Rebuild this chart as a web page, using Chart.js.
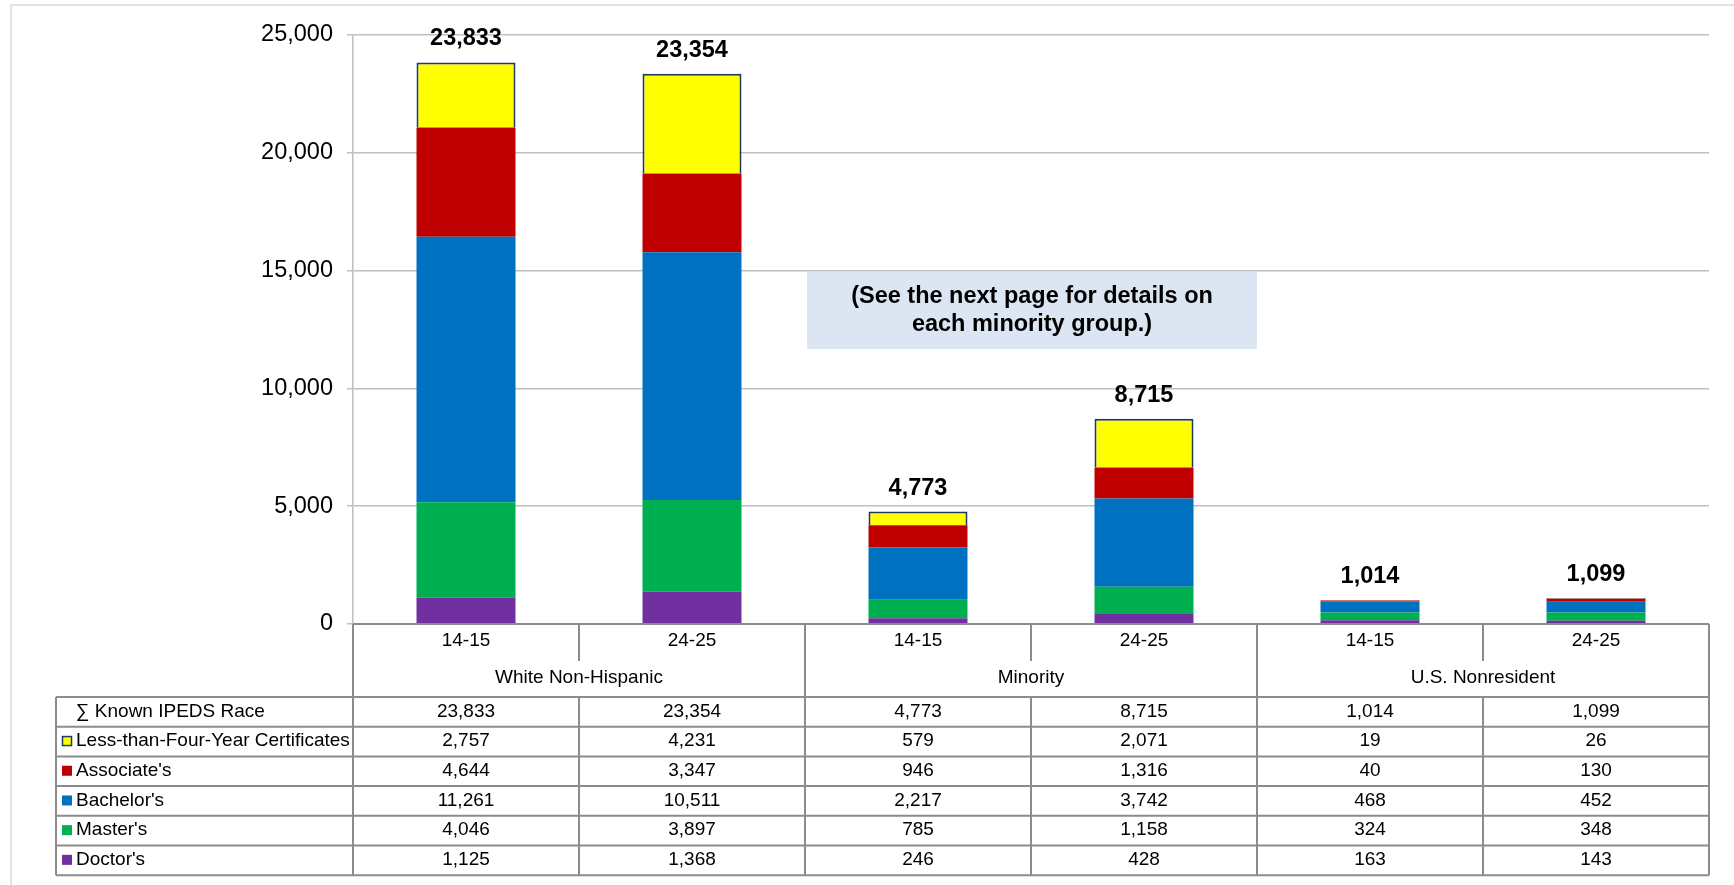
<!DOCTYPE html>
<html>
<head>
<meta charset="utf-8">
<script src="https://cdn.jsdelivr.net/npm/chart.js@4"></script>
<style>
body{margin:0;background:#fff;}
#wrap{position:relative;width:1734px;height:885px;}
</style>
</head>
<body>
<div id="wrap"><canvas id="degChart" width="1734" height="885"></canvas></div>
<script>
// data
var groups=['White Non-Hispanic','Minority','U.S. Nonresident'];
var years=['14-15','24-25','14-15','24-25','14-15','24-25'];
var totals=[23833,23354,4773,8715,1014,1099];
var certs=[2757,4231,579,2071,19,26];
var assoc=[4644,3347,946,1316,40,130];
var bach=[11261,10511,2217,3742,468,452];
var mast=[4046,3897,785,1158,324,348];
var doct=[1125,1368,246,428,163,143];
var yTicks=[0,5000,10000,15000,20000,25000];
var rowNames=['\u2211 Known IPEDS Race','Less-than-Four-Year Certificates',"Associate's","Bachelor's","Master's","Doctor's"];
var noteLines=['(See the next page for details on','each minority group.)'];

var FONT='"Liberation Sans", Arial, sans-serif';
var LINE='#8c8c8c';
function fmt(n){return n.toLocaleString('en-US');}

var labels=years.map(function(y,i){return [y,groups[Math.floor(i/2)]];});

// rows of the table below the chart (top→bottom)
var tableRows=[
	{name:rowNames[0],vals:totals,color:null},
	{name:rowNames[1],vals:certs,color:'#ffff00',border:'#1f3864'},
	{name:rowNames[2],vals:assoc,color:'#c00000'},
	{name:rowNames[3],vals:bach,color:'#0070c0'},
	{name:rowNames[4],vals:mast,color:'#00b050'},
	{name:rowNames[5],vals:doct,color:'#7030a0'}
];

//표 그리기
var tablePlugin={
	id:'tablePlugin',
	beforeDraw:function(chart){
		var ctx=chart.ctx;
		ctx.save();
		ctx.strokeStyle='#d9d9d9';ctx.lineWidth=1.5;
		ctx.beginPath();ctx.moveTo(11,885);ctx.lineTo(11,5);ctx.lineTo(1734,5);ctx.stroke();
		// note box
		ctx.fillStyle='#dce6f2';
		ctx.fillRect(807,272,450,77);
		ctx.restore();
	},
	afterDatasetsDraw:function(chart){
		var ctx=chart.ctx;
		var meta=chart.getDatasetMeta(chart.data.datasets.length-1);
		ctx.save();
		ctx.fillStyle='#000';
		ctx.font='bold 23.5px '+FONT;
		ctx.textAlign='center';ctx.textBaseline='alphabetic';
		for(var i=0;i<totals.length;i++){
			var el=meta.data[i];
			ctx.fillText(fmt(totals[i]),el.x,el.y-17);
		}
		// note text
		ctx.font='bold 23.5px '+FONT;
		ctx.textBaseline='middle';
		ctx.fillText(noteLines[0],1032,297);
		ctx.fillText(noteLines[1],1032,325);
		ctx.restore();
	},
	afterDraw:function(chart){
		var ctx=chart.ctx;
		var xs=chart.scales.x, area=chart.chartArea;
		var left=area.left,right=area.right,top=area.bottom;
		var colW=(right-left)/totals.length;
		var catBottom=697, tabLeft=56, rowH=29.7;
		ctx.save();
		ctx.strokeStyle=LINE;ctx.lineWidth=2;
		ctx.beginPath();
		ctx.moveTo(left,top);ctx.lineTo(right,top);
		for(var k=0;k<=totals.length;k++){
			var x=left+k*colW;
			ctx.moveTo(x,top);
			ctx.lineTo(x,k%2==0 ? catBottom+rowH*6 : top+37);
			if(k%2==1){ctx.moveTo(x,catBottom);ctx.lineTo(x,catBottom+rowH*6);}
		}
		for(var r=0;r<=6;r++){
			ctx.moveTo(tabLeft,catBottom+r*rowH);
			ctx.lineTo(right,catBottom+r*rowH);
		}
		ctx.moveTo(tabLeft,catBottom);ctx.lineTo(tabLeft,catBottom+rowH*6);
		ctx.stroke();

		ctx.fillStyle='#000';
		ctx.font='19px '+FONT;
		ctx.textAlign='center';ctx.textBaseline='middle';
		for(var i=0;i<years.length;i++){
			ctx.fillText(years[i],xs.getPixelForValue(i),top+17);
		}
		for(var g=0;g<groups.length;g++){
			ctx.fillText(groups[g],left+(2*g+1)*colW,top+54);
		}
		for(var r=0;r<tableRows.length;r++){
			var row=tableRows[r];
			var cy=catBottom+r*rowH+rowH/2-0.5;
			ctx.textAlign='center';
			for(var i=0;i<row.vals.length;i++){
				ctx.fillText(fmt(row.vals[i]),xs.getPixelForValue(i),cy);
			}
			ctx.textAlign='left';
			ctx.fillText(row.name,76,cy);
			if(row.color){
				ctx.fillStyle=row.color;
				ctx.fillRect(62,cy-5,10,10);
				if(row.border){
					ctx.strokeStyle=row.border;ctx.lineWidth=1.5;
					ctx.strokeRect(62.5,cy-4.5,9,9);
				}
				ctx.fillStyle='#000';
			}
		}
		ctx.restore();
	}
};

function ds(label,data,color,border){
	return {label:label,data:data,backgroundColor:color,
		borderColor:border||color,borderWidth:border?2:0,
		barPercentage:0.438,categoryPercentage:1};
}

var chart=new Chart(document.getElementById('degChart').getContext('2d'),{
	type:'bar',
	data:{
		labels:labels,
		datasets:[
			ds(rowNames[5],doct,'#7030a0'),
			ds(rowNames[4],mast,'#00b050'),
			ds(rowNames[3],bach,'#0070c0'),
			ds(rowNames[2],assoc,'#c00000'),
			ds(rowNames[1],certs,'#ffff00','#1f3864')
		]
	},
	options:{
		responsive:false,
		animation:false,
		layout:{padding:{left:0,top:35,right:25,bottom:261}},
		plugins:{legend:{display:false},tooltip:{enabled:false}},
		scales:{
			x:{stacked:true,display:false},
			y:{
				stacked:true,min:0,max:25000,
				afterFit:function(s){s.width=353;},
				afterBuildTicks:function(s){s.ticks=yTicks.map(function(v){return {value:v};});},
				ticks:{color:'#000',font:{family:FONT,size:23.5},padding:14,
					callback:function(v){return fmt(v);}},
				grid:{color:'#c0c0c0',lineWidth:1.5,tickLength:6},
				border:{color:'#c0c0c0',width:1.5}
			}
		}
	},
	plugins:[tablePlugin]
});
</script>
</body>
</html>
